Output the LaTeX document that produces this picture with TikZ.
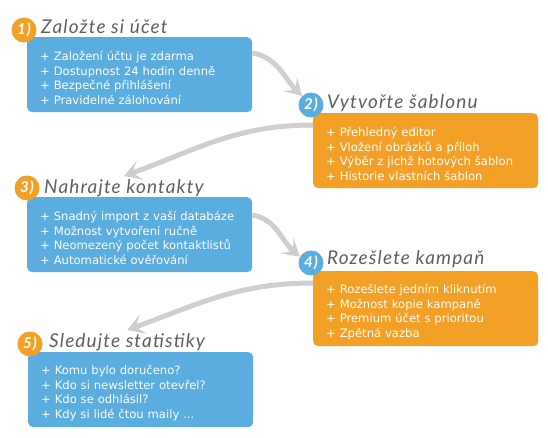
\documentclass[tikz,border=0pt]{standalone}
\usepackage{fontspec}
\setmainfont{DejaVu Sans}
\newfontfamily\handfont{Lato}[LetterSpace=6]
\usetikzlibrary{arrows.meta}
\definecolor{boxblue}{RGB}{91,173,223}
\definecolor{boxorange}{RGB}{243,160,38}
\definecolor{arrowgray}{RGB}{206,206,206}
\definecolor{titlegray}{RGB}{95,95,95}

\begin{document}
\begin{tikzpicture}[x=1pt,y=1pt,
    stepbox/.style={rounded corners=5pt,text=white,anchor=north west,align=left,
      text width=199pt,inner xsep=13pt,minimum height=75pt,
      execute at begin node={\rule{0pt}{16pt}},
      font=\fontsize{11.6}{14.7}\selectfont},
    stepnum/.style={circle,minimum size=25pt,inner sep=0pt,text=white,
      font=\handfont\itshape\bfseries\fontsize{15}{15}\selectfont},
    steptitle/.style={anchor=west,inner sep=1pt,text=titlegray,
      font=\handfont\itshape\fontsize{19}{19}\selectfont},
    stepflow/.style={draw=arrowgray,line width=5pt,
      -{Stealth[length=17pt,width=20pt,inset=8pt]}}]
  \useasboundingbox (0,0) rectangle (548,-438);
  % boxes
  \node[stepbox,fill=boxblue] (B1) at (27,-37) {+ Založení účtu je zdarma\\+ Dostupnost 24 hodin denně\\+ Bezpečné přihlášení\\+ Pravidelné zálohování};
  \node[stepbox,fill=boxorange] (B2) at (313,-113) {+ Přehledný editor\\+ Vložení obrázků a příloh\\+ Výběr z jichž hotových šablon\\+ Historie vlastních šablon};
  \node[stepbox,fill=boxblue] (B3) at (27,-197) {+ Snadný import z vaší databáze\\+ Možnost vytvoření ručně\\+ Neomezený počet kontaktlistů\\+ Automatické ověřování};
  \node[stepbox,fill=boxorange] (B4) at (313,-271) {+ Rozešlete jedním kliknutím\\+ Možnost kopie kampaně\\+ Premium účet s prioritou\\+ Zpětná vazba};
  \node[stepbox,fill=boxblue] (B5) at (28,-352) {+ Komu bylo doručeno?\\+ Kdo si newsletter otevřel?\\+ Kdo se odhlásil?\\+ Kdy si lidé čtou maily ...};
  % numbers
  \node[stepnum,fill=boxorange] (N1) at (24,-30) {1)};
  \node[stepnum,fill=boxblue] (N2) at (311,-105) {2)};
  \node[stepnum,fill=boxorange] (N3) at (27,-188) {3)};
  \node[stepnum,fill=boxblue] (N4) at (311,-263) {4)};
  \node[stepnum,fill=boxorange] (N5) at (30,-344) {5)};
  % titles
  \node[steptitle] (T1) at (40,-27) {Založte si účet};
  \node[steptitle] (T2) at (326,-103) {Vytvořte šablonu};
  \node[steptitle] (T3) at (43,-188) {Nahrajte kontakty};
  \node[steptitle] (T4) at (326,-259) {Rozešlete kampaň};
  \node[steptitle] (T5) at (48,-342) {Sledujte statistiky};
  % arrows
  \draw[stepflow] ([yshift=-16pt]B1.north east) to[out=-10,in=135] (N2.135);
  \draw[stepflow] ([yshift=-12pt]B2.north west) to[out=180,in=20] ([yshift=2pt]T3.north);
  \draw[stepflow] ([yshift=-18pt]B3.north east) to[out=-10,in=140] (N4.150);
  \draw[stepflow] ([yshift=-12pt]B4.north west) to[out=180,in=20] ([yshift=2pt]T5.north);
\end{tikzpicture}
\end{document}
